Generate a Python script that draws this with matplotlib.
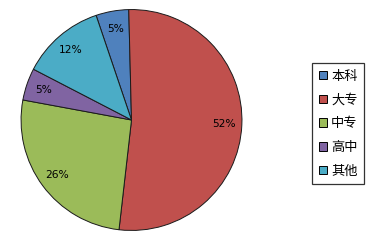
import matplotlib
matplotlib.use('Agg')
import matplotlib.pyplot as plt
from matplotlib.patches import Patch

plt.rcParams['font.family'] = ['Noto Sans CJK SC', 'DejaVu Sans']

# education level shares (%)
categories = ['本科', '大专', '中专', '高中', '其他']
shares = [4.8, 52.2, 26.1, 4.7, 12.2]
colors = ['#4F81BD', '#C0504D', '#9BBB59', '#8064A2', '#4BACC6']

W, H = 377, 245
fig = plt.figure(figsize=(W / 100, H / 100), dpi=100)
fig.patch.set_facecolor('white')

cx, cy, r = 131.5, 120, 111
ax = fig.add_axes([(cx - r) / W, (H - cy - r) / H, 2 * r / W, 2 * r / H])

wedges, texts, autotexts = ax.pie(
    shares,
    colors=colors,
    startangle=108.7,
    counterclock=False,
    autopct=lambda p: f'{p:.0f}%',
    pctdistance=0.84,
    wedgeprops=dict(edgecolor='#1a1a1a', linewidth=0.7),
    textprops=dict(fontsize=7.7, family='DejaVu Sans', color='black'),
    radius=1.0,
)
ax.set_xlim(-1.005, 1.005)
ax.set_ylim(-1.005, 1.005)
ax.axis('off')

handles = [Patch(facecolor=c, edgecolor='black', linewidth=0.7) for c in colors]
leg = fig.legend(
    handles, categories,
    loc='upper left',
    bbox_to_anchor=(312 / W, 1 - 63 / H),
    frameon=True, fancybox=False,
    fontsize=9.5,
    handlelength=0.6, handleheight=0.6,
    handletextpad=0.35,
    labelspacing=0.82,
    borderpad=0.5,
    borderaxespad=0,
)
leg.get_frame().set_edgecolor('black')
leg.get_frame().set_linewidth(0.9)

fig.savefig('out.png', dpi=100)
